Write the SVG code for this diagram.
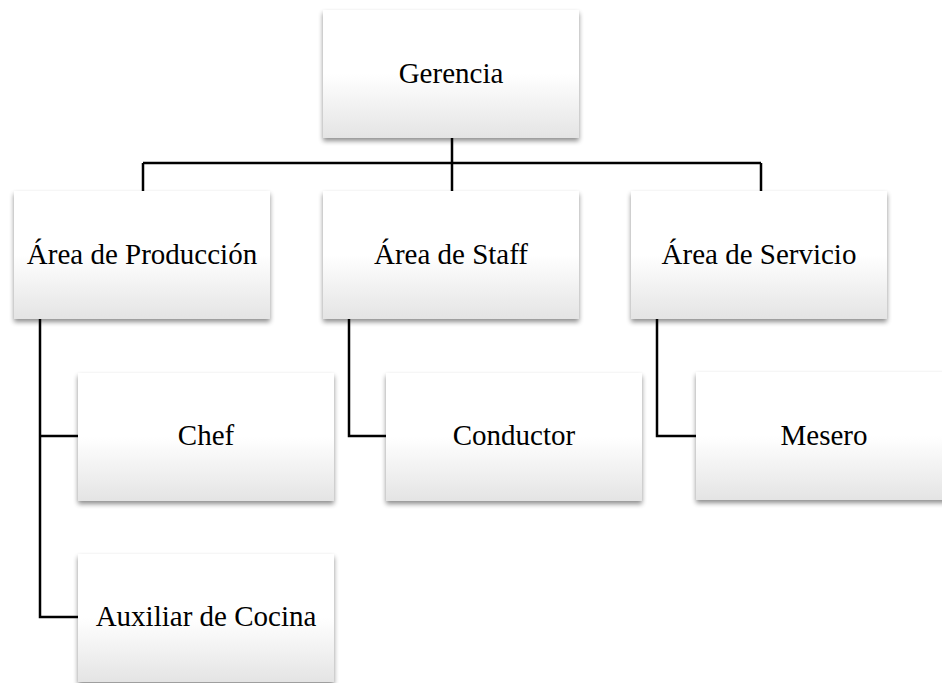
<svg xmlns="http://www.w3.org/2000/svg" width="942" height="683" viewBox="0 0 942 683">
<defs>
<linearGradient id="g" x1="0" y1="0" x2="0" y2="1">
<stop offset="0" stop-color="#ffffff"/>
<stop offset="0.5" stop-color="#ffffff"/>
<stop offset="1" stop-color="#e4e4e4"/>
</linearGradient>
<filter id="sh" x="-10%" y="-10%" width="120%" height="130%">
<feGaussianBlur in="SourceAlpha" stdDeviation="2.5"/>
<feOffset dx="0" dy="3" result="b"/>
<feComponentTransfer><feFuncA type="linear" slope="0.45"/></feComponentTransfer>
<feMerge><feMergeNode/><feMergeNode in="SourceGraphic"/></feMerge>
</filter>
</defs>
<style>
.box{fill:url(#g);filter:url(#sh);}
.t{font-family:"Liberation Serif","Times New Roman",serif;font-size:29px;fill:#000;text-anchor:middle;}
.c{fill:none;stroke:#000;stroke-width:2.5;}
</style>
<rect width="942" height="683" fill="#fff"/>
<g id="connectors">
<path class="c" d="M452 138V191M143 163H761M143 163V191M761 163V191"/>
<path class="c" d="M40 319V617H78M40 436H78"/>
<path class="c" d="M349 319V436H386"/>
<path class="c" d="M657 319V436H696"/>
</g>
<g id="gerencia"><rect class="box" x="323" y="10" width="256" height="128"/><text class="t" x="451" y="83">Gerencia</text></g>
<g id="produccion"><rect class="box" x="14" y="191" width="256" height="128"/><text class="t" x="142" y="264">Área de Producción</text></g>
<g id="staff"><rect class="box" x="323" y="191" width="256" height="128"/><text class="t" x="451" y="264">Área de Staff</text></g>
<g id="servicio"><rect class="box" x="631" y="191" width="256" height="128"/><text class="t" x="759" y="264">Área de Servicio</text></g>
<g id="chef"><rect class="box" x="78" y="373" width="256" height="128"/><text class="t" x="206" y="445">Chef</text></g>
<g id="conductor"><rect class="box" x="386" y="373" width="256" height="128"/><text class="t" x="514" y="445">Conductor</text></g>
<g id="mesero"><rect class="box" x="696" y="372" width="256" height="128"/><text class="t" x="824" y="445">Mesero</text></g>
<g id="auxiliar"><rect class="box" x="78" y="554" width="256" height="128"/><text class="t" x="206" y="626">Auxiliar de Cocina</text></g>
</svg>
